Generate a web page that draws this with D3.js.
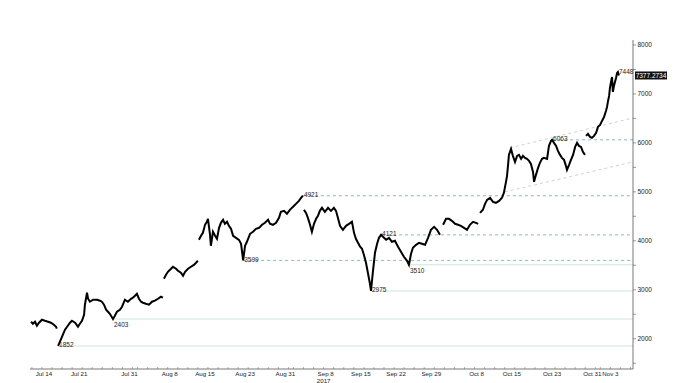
<!DOCTYPE html>
<html><head><meta charset="utf-8">
<script src="https://cdn.jsdelivr.net/npm/d3@7"></script>
<style>body{margin:0;background:#fff}svg{display:block}text{font-family:"Liberation Sans",Arial,sans-serif}</style>
</head><body><svg id="c" width="677" height="383"></svg>
<script>
// ---- data (null = gap in the price record) ----
const dates = [
"07-10 20","07-11 05","07-11 15","07-12 00","07-12 10","07-13 00","07-13 14","07-14 05","07-14 19","07-15 09","07-15 19","07-15 23","07-16 02",
"07-16 05","07-16 14","07-17 04","07-17 14","07-18 00","07-18 14","07-18 23","07-19 14","07-20 04","07-20 13","07-20 23","07-21 09","07-21 13","07-21 23","07-22 04","07-22 13","07-23 04","07-23 23","07-24 13","07-24 22","07-25 08","07-25 18","07-26 03","07-26 12","07-27 03","07-27 12","07-27 22","07-28 12","07-28 22","07-29 12","07-30 02","07-30 17","07-31 02","07-31 12","07-31 21","08-01 07","08-01 17","08-02 02","08-02 16","08-03 07","08-03 21","08-04 11","08-05 02","08-05 16","08-06 01","08-06 03",
"08-06 06","08-06 16","08-07 01","08-07 16","08-08 01","08-08 16","08-09 01","08-09 15","08-10 01","08-10 11","08-11 01","08-11 15","08-12 05","08-12 15","08-13 00","08-13 02",
"08-13 05","08-13 15","08-14 00","08-14 10","08-14 19","08-15 00","08-15 10","08-15 14","08-16 00","08-16 10","08-16 19","08-17 05","08-17 14","08-18 00","08-18 09","08-18 19","08-19 04","08-19 14","08-20 00","08-20 14","08-21 04","08-21 14","08-22 00","08-22 09","08-22 18","08-23 09","08-23 23","08-24 13","08-25 04","08-25 18","08-26 08","08-26 23","08-27 08","08-27 22","08-28 13","08-29 03","08-29 12","08-30 03","08-30 17","08-31 07","08-31 22","09-01 12","09-02 02","09-02 12","09-02 21","09-02 23",
"09-03 02","09-03 12","09-03 21","09-04 07","09-04 16","09-05 02","09-05 12","09-05 21","09-06 06","09-06 16","09-07 06","09-07 21","09-08 11","09-09 01","09-09 11","09-09 20","09-10 06","09-10 20","09-11 11","09-12 01","09-12 15","09-13 01","09-13 10","09-13 20","09-14 06","09-14 15","09-15 00","09-15 10","09-15 20","09-16 05","09-16 10","09-16 19","09-17 05","09-17 15","09-18 00","09-18 10","09-18 19","09-19 10","09-20 00","09-20 14","09-21 04","09-21 19","09-22 09","09-22 23","09-23 14","09-23 23","09-24 09","09-24 18","09-25 09","09-25 23","09-26 13","09-27 04","09-27 18","09-28 08","09-28 23","09-29 13","09-30 03","09-30 10",
"09-30 18","10-01 08","10-01 22","10-02 12","10-03 03","10-03 17","10-04 07","10-04 22","10-05 12","10-06 02","10-06 17","10-07 07","10-07 17","10-07 21",
"10-08 02","10-08 16","10-09 02","10-09 12","10-10 02","10-10 16","10-11 06","10-11 21","10-12 11","10-12 20","10-13 06","10-13 11","10-13 16","10-13 20","10-14 06","10-14 15","10-15 01","10-15 11","10-15 20","10-16 06","10-16 15","10-17 01","10-17 10","10-17 20","10-18 05","10-18 15","10-18 20","10-19 05","10-19 15","10-20 00","10-20 10","10-20 19","10-21 10","10-21 19","10-22 05","10-22 10","10-22 19","10-23 05","10-23 14","10-24 00","10-24 09","10-24 19","10-25 04","10-25 09","10-25 19","10-26 04","10-26 14","10-27 00","10-27 09","10-27 18","10-28 04","10-28 13","10-28 23","10-29 01",
"10-29 04","10-29 13","10-29 23","10-30 08","10-30 18","10-31 04","10-31 13","10-31 23","11-01 08","11-01 18","11-02 03","11-02 08","11-02 13","11-02 18","11-02 22","11-03 03","11-03 08","11-03 12","11-03 17","11-03 22","11-04 03","11-04 08","11-04 12","11-04 17"
];
const values = [
2347,2306,2347,2265,2327,2388,2367,2347,2327,2286,2245,2204,null,
1852,1939,2082,2184,2245,2327,2367,2327,2245,2306,2367,2490,2694,2939,2816,2755,2796,2796,2776,2755,2694,2592,2551,2510,2403,2469,2551,2592,2653,2796,2755,2816,2837,2878,2918,2816,2755,2735,2714,2694,2755,2776,2816,2857,2837,null,
3224,3306,3367,3429,3469,3429,3388,3347,3286,3367,3429,3469,3508,3551,3592,null,
4020,4102,4163,4327,4388,4449,4122,3898,4184,4102,4041,4265,4367,4429,4347,4388,4306,4245,4102,4061,4020,3939,3599,3898,3980,4143,4184,4245,4265,4327,4367,4429,4347,4327,4367,4469,4592,4612,4551,4633,4694,4755,4816,4878,4921,null,
4633,4571,4469,4327,4184,4347,4449,4510,4612,4674,4592,4674,4612,4674,4612,4469,4306,4225,4306,4347,4388,4163,4041,3959,3878,3837,3714,3551,3327,3122,2975,3367,3755,3939,4061,4121,4082,4020,4061,3980,4000,3878,3776,3674,3592,3510,3735,3857,3918,3959,3939,3918,4061,4225,4286,4225,4122,null,
4327,4449,4449,4408,4347,4327,4306,4265,4225,4327,4388,4367,4347,null,
4571,4633,4755,4837,4878,4796,4776,4816,4878,4980,5204,5327,5551,5755,5878,5735,5612,5735,5755,5674,5735,5694,5674,5633,5571,5408,5204,5347,5490,5592,5674,5694,5674,5939,6041,6063,6000,5939,5837,5755,5694,5653,5531,5449,5551,5653,5755,5918,6000,5939,5918,5816,5755,null,
6143,6184,6122,6102,6143,6204,6327,6367,6449,6531,6653,6735,6857,6959,7122,7245,7347,7041,7163,7245,7327,7429,7448,7377.2734
];
const supportLevels = [1852, 2403, 2975, 3510];
const resistanceLevels = [3599, 4121, 4921, 6063];
const peakLabels = [7448];
const trendUpper = [["10-14 01", 5898], ["11-07 12", 6510]];
const trendLower = [["10-13 01", 5000], ["11-07 12", 5612]];
const xTickLabels = ["Jul 14","Jul 21","Jul 31","Aug 8","Aug 15","Aug 23","Aug 31","Sep 8","Sep 15","Sep 22","Sep 29","Oct 8","Oct 15","Oct 23","Oct 31","Nov 3"];
const yTickValues = [2000, 3000, 4000, 5000, 6000, 7000, 8000];
const yearLabel = "2017";
const lastValue = 7377.2734;

// ---- build ----
const parse = d3.timeParse("%Y-%m-%d %H");
const pd = s => parse("2017-" + s);
const data = dates.map((d, i) => ({date: pd(d), value: values[i]}));

const svg = d3.select("#c");
svg.append("rect").attr("width", 677).attr("height", 383).attr("fill", "#fff");

const x = d3.scaleTime().domain([pd("07-10 15"), pd("11-07 12")]).range([30, 633]);
const y = d3.scaleLinear().domain([1381, 8102]).range([369, 40]);

const font = 6.5, txt = "#222";

// levels
const dateOf = v => data.find(d => d.value === v).date;
const lv = svg.append("g");
supportLevels.forEach(v => {
  lv.append("line").attr("x1", x(dateOf(v))).attr("x2", x.range()[1])
    .attr("y1", y(v)).attr("y2", y(v)).attr("stroke", "#cfe4e1").attr("stroke-width", 1.1);
});
resistanceLevels.forEach(v => {
  lv.append("line").attr("x1", x(dateOf(v))).attr("x2", x.range()[1])
    .attr("y1", y(v)).attr("y2", y(v)).attr("stroke", "#6faaa0").attr("stroke-width", 0.8)
    .attr("stroke-dasharray", "3,3");
});
// trend channel
[trendUpper, trendLower].forEach(t => {
  svg.append("line").attr("x1", x(pd(t[0][0]))).attr("y1", y(t[0][1]))
    .attr("x2", x(pd(t[1][0]))).attr("y2", y(t[1][1]))
    .attr("stroke", "#c4c4c4").attr("stroke-width", 0.8).attr("stroke-dasharray", "3,3");
});

// price line
const line = d3.line().defined(d => d.value !== null).x(d => x(d.date)).y(d => y(d.value));
svg.append("path").datum(data).attr("d", line).attr("fill", "none")
  .attr("stroke", "#000").attr("stroke-width", 2).attr("stroke-linejoin", "miter");

// level labels
const below = new Set([2403, 3510]);
supportLevels.concat(resistanceLevels, peakLabels).forEach(v => {
  svg.append("text").attr("x", x(dateOf(v)) + 1).attr("y", y(v) + (below.has(v) ? 8 : 1.5))
    .attr("font-size", font).attr("fill", txt).text(d3.format("d")(v));
});

// axes
const ax = svg.append("g");
ax.append("line").attr("x1", 30).attr("x2", 633).attr("y1", 369).attr("y2", 369).attr("stroke", "#555").attr("stroke-width", 0.8);
ax.append("line").attr("x1", 633).attr("x2", 633).attr("y1", 40).attr("y2", 369).attr("stroke", "#555").attr("stroke-width", 0.8);
// x minor ticks
d3.timeDay.every(2).range(x.domain()[0], x.domain()[1]).forEach(d => {
  ax.append("line").attr("x1", x(d)).attr("x2", x(d)).attr("y1", 369).attr("y2", 367).attr("stroke", "#777").attr("stroke-width", 0.6);
});
const lp = d3.timeParse("%b %d %Y");
xTickLabels.forEach((l, i) => {
  const last = i === xTickLabels.length - 1;
  ax.append("text").attr("x", x(lp(l + " 2017")) + (last ? 0 : -3)).attr("y", 375.5).attr("text-anchor", "middle")
    .attr("font-size", 6.2).attr("fill", txt).text(l);
});
ax.append("text").attr("x", x(lp("Sep 8 2017")) - 5).attr("y", 382.5).attr("text-anchor", "middle")
  .attr("font-size", 6.2).attr("fill", txt).text(yearLabel);
// y ticks
d3.range(1500, 8001, 500).forEach(v => {
  ax.append("line").attr("x1", 633).attr("x2", 636).attr("y1", y(v)).attr("y2", y(v)).attr("stroke", "#555").attr("stroke-width", 0.6);
});
yTickValues.forEach(v => {
  ax.append("text").attr("x", 637.5).attr("y", y(v)).attr("dy", "0.35em")
    .attr("font-size", font).attr("fill", txt).text(v);
});
// last value box
const lastY = y(lastValue);
ax.append("rect").attr("x", 635).attr("y", lastY - 4).attr("width", 32).attr("height", 8).attr("fill", "#111");
ax.append("text").attr("x", 651).attr("y", lastY).attr("dy", "0.35em").attr("text-anchor", "middle")
  .attr("font-size", font).attr("fill", "#fff").text(lastValue.toFixed(4));
</script></body></html>
